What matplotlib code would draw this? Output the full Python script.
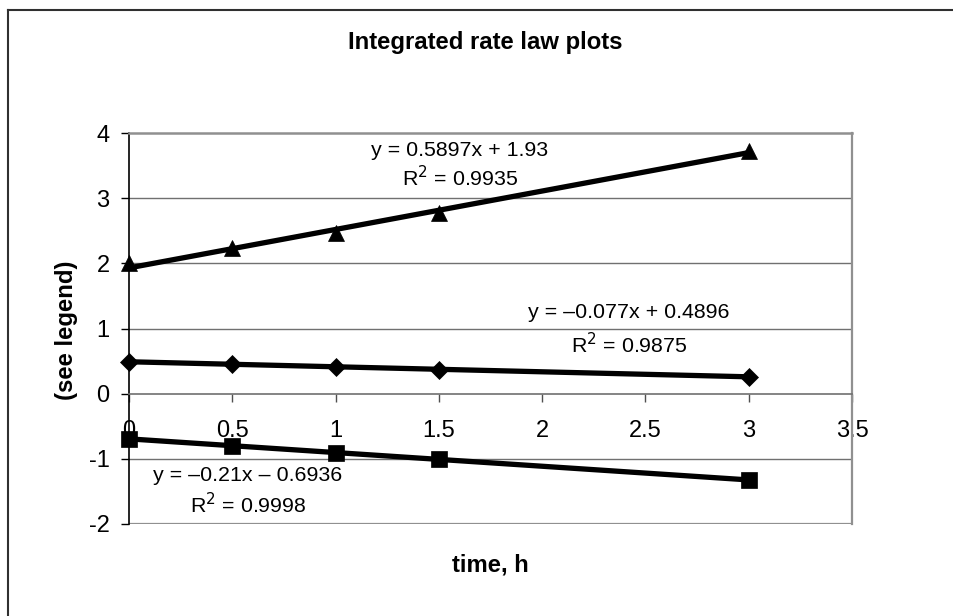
import matplotlib
matplotlib.use("Agg")
import matplotlib.pyplot as plt
import numpy as np
from matplotlib.lines import Line2D

plt.rcParams['font.family'] = ['Liberation Sans', 'DejaVu Sans']

# data
time_h = [0, 0.5, 1, 1.5, 3]
tri_vals = [2.0, 2.24, 2.47, 2.77, 3.73]      # triangles
dia_vals = [0.49, 0.45, 0.41, 0.37, 0.26]     # diamonds
sq_vals = [-0.69, -0.80, -0.91, -1.01, -1.32]  # squares

# trendline coefficients as printed on the chart
slopes = [0.5897, -0.077, -0.21]
intercepts = [1.93, 0.4896, -0.6936]
eq_labels = ["y = 0.5897x + 1.93", "y = \u20130.077x + 0.4896", "y = \u20130.21x \u2013 0.6936"]
r2_labels = ["R$^2$ = 0.9935", "R$^2$ = 0.9875", "R$^2$ = 0.9998"]

W, H = 954, 616
fig = plt.figure(figsize=(W / 100, H / 100), dpi=100)
ax = fig.add_axes([129 / W, 1 - 524 / H, (852 - 129) / W, (524 - 133) / H])

ax.set_xlim(0, 3.5)
ax.set_ylim(-2, 4)

# gridlines
for yv in [-1, 1, 2, 3]:
    ax.axhline(yv, color='#707070', lw=1.0, zorder=0)
ax.axhline(-2, color='#909090', lw=1.6, zorder=0)

xfit = np.array([min(time_h), max(time_h)])
series = [(tri_vals, '^', 12), (dia_vals, 'D', 9), (sq_vals, 's', 11)]
for (vals, mk, ms), m, b in zip(series, slopes, intercepts):
    ax.plot(xfit, m * xfit + b, color='black', lw=3.8, solid_capstyle='butt', zorder=3)
    ax.plot(time_h, vals, linestyle='none', marker=mk, ms=ms, color='black',
            mec='black', mew=0.5, zorder=4, clip_on=False)

# trendline labels
lab_pos = [(1.602, 3.737, 3.308), (2.42, 1.24, 0.75), (0.576, -1.256, -1.70)]
for (xc, ye, yr), eq, r2 in zip(lab_pos, eq_labels, r2_labels):
    ax.text(xc, ye, eq, ha='center', va='center', fontsize=15.4, zorder=5)
    ax.text(xc, yr, r2, ha='center', va='center', fontsize=15.4, zorder=5)

# axes styling
ax.spines['bottom'].set_position(('data', 0))
ax.spines['bottom'].set_color('#707070')
ax.spines['bottom'].set_linewidth(1.2)
ax.spines['left'].set_color('black')
ax.spines['left'].set_linewidth(1.2)
ax.spines['top'].set_color('#909090')
ax.spines['top'].set_linewidth(1.8)
ax.spines['right'].set_color('#909090')
ax.spines['right'].set_linewidth(1.6)

ax.set_xticks([0, 0.5, 1, 1.5, 2, 2.5, 3, 3.5])
ax.set_xticklabels(['0', '0.5', '1', '1.5', '2', '2.5', '3', '3.5'])
ax.set_yticks([-2, -1, 0, 1, 2, 3, 4])
ax.set_yticklabels(['-2', '-1', '0', '1', '2', '3', '4'])
ax.tick_params(axis='x', direction='out', length=6, width=1, color='#505050',
               labelsize=17, pad=13)
ax.tick_params(axis='y', direction='out', length=6, width=1, color='black',
               labelsize=17, pad=8)

fig.text(485 / W, 1 - 43 / H, "Integrated rate law plots", ha='center', va='center',
         fontsize=17.2, fontweight='bold')
fig.text(490 / W, 1 - 565 / H, "time, h", ha='center', va='center',
         fontsize=17.2, fontweight='bold')
fig.text(67 / W, 1 - 330 / H, "(see legend)", ha='center', va='center',
         rotation=90, fontsize=17.2, fontweight='bold')

# outer chart border (only left and top edges visible)
fig.add_artist(Line2D([8 / W, 8 / W], [0, 1 - 10 / H], transform=fig.transFigure,
                      color='#303030', lw=1.5))
fig.add_artist(Line2D([8 / W, 1], [1 - 10 / H, 1 - 10 / H], transform=fig.transFigure,
                      color='#303030', lw=1.5))

fig.savefig("out.png", dpi=100)
